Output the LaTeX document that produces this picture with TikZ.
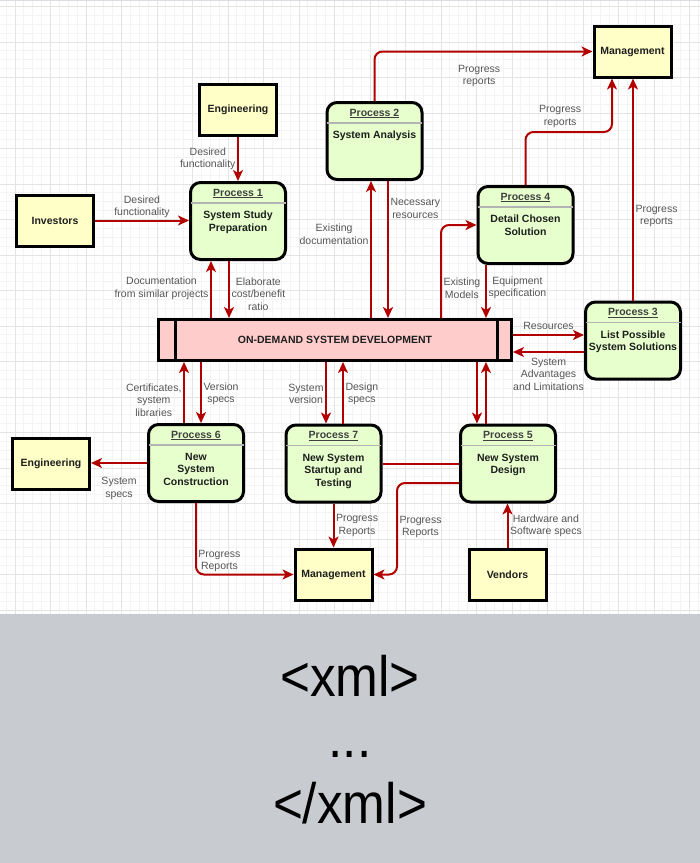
\documentclass[tikz,border=0pt]{standalone}
\usepackage{fontspec}
\setmainfont{Liberation Sans}
\newfontfamily\xmlfont[FakeStretch=0.9]{Liberation Sans}
\usetikzlibrary{arrows.meta}

\definecolor{arrowred}{HTML}{B20000}
\definecolor{entfill}{HTML}{FFFFC8}
\definecolor{procfill}{HTML}{E6FFCC}
\definecolor{devfill}{HTML}{FFCCCC}
\definecolor{divgray}{HTML}{B3B3B3}
\definecolor{labelgray}{HTML}{555555}
\definecolor{textdark}{HTML}{1E1E1E}
\definecolor{bandgray}{HTML}{C8CCD1}
\definecolor{minorgrid}{HTML}{F3F3F3}
\definecolor{majorgrid}{HTML}{E4E4E4}

\tikzset{
  flow/.style={draw=arrowred, line width=2pt, -{Stealth[length=11pt,width=10pt,inset=3pt]}},
  plainflow/.style={draw=arrowred, line width=2pt},
  ent/.style={draw, line width=3pt, fill=entfill, minimum width=77pt, minimum height=51pt,
    font=\bfseries\fontsize{10.5}{12.5}\selectfont, text=textdark},
  proc/.style={draw, line width=3pt, fill=procfill, rounded corners=10pt,
    minimum width=95pt, minimum height=77pt},
  ptitle/.style={anchor=base, inner sep=0pt, font=\bfseries\fontsize{10.5}{12.5}\selectfont, text=textdark!85},
  pbody/.style={anchor=north, align=center, inner sep=0pt, font=\bfseries\fontsize{10.5}{12.5}\selectfont, text=textdark},
  pline/.style={draw=divgray, line width=1.5pt},
  lbl/.style={font=\fontsize{10.5}{12.5}\selectfont, text=labelgray, align=center, inner sep=1.5pt},
  xmltext/.style={anchor=base, inner sep=0pt, font=\xmlfont\fontsize{57}{60}\selectfont}
}

% process box: name, x, y, number, text
\newcommand\procbox[5]{
  \node[proc] (#1) at (#2,#3) {};
  \node[ptitle] (#1t) at ([yshift=-15pt]#1.north) {\underline{Process #4}};
  \draw[pline] ([xshift=1.5pt,yshift=-22pt]#1.north west) -- ([xshift=-1.5pt,yshift=-22pt]#1.north east);
  \node[pbody] (#1b) at ([yshift=-30pt]#1.north) {#5};
}

\begin{document}
\begin{tikzpicture}[x=1pt,y=-1pt]
  \useasboundingbox (0,0) rectangle (700,863);
  % background grid
  \foreach \i in {-2,...,78} \draw[minorgrid, line width=0.8pt] ({15+8.875*\i},0) -- ({15+8.875*\i},614);
  \foreach \i in {0,...,68} \draw[minorgrid, line width=0.8pt] (0,{6.5+8.875*\i}) -- (700,{6.5+8.875*\i});
  \foreach \i in {0,...,19} \draw[majorgrid, line width=0.9pt] ({15+35.5*\i},0) -- ({15+35.5*\i},614);
  \foreach \i in {0,...,17} \draw[majorgrid, line width=0.9pt] (0,{6.5+35.5*\i}) -- (700,{6.5+35.5*\i});
  \draw[blue!10!gray!25, line width=1pt] (0,0.5) -- (700,0.5);

  % external entities
  \node[ent] (eng1) at (238,110) {Engineering};
  \node[ent] (inv) at (55,220.5) {Investors};
  \node[ent] (mgt1) at (632.5,51.5) {Management};
  \node[ent] (eng2) at (51,463.5) {Engineering};
  \node[ent] (mgt2) at (333.5,574.5) {Management};
  \node[ent] (ven) at (507.5,575) {Vendors};

  % data store
  \node[draw, line width=3pt, fill=devfill, minimum width=353pt, minimum height=41pt,
    font=\bfseries\fontsize{10.5}{12.5}\selectfont, text=textdark] (dev) at (335,340) {ON-DEMAND SYSTEM DEVELOPMENT};
  \draw[line width=3pt] ([xshift=18pt]dev.north west) -- ([xshift=18pt]dev.south west);
  \draw[line width=3pt] ([xshift=-16pt]dev.north east) -- ([xshift=-16pt]dev.south east);

  % processes
  \procbox{p1}{238}{221}{1}{System Study\\Preparation}
  \procbox{p2}{374.5}{141}{2}{System Analysis}
  \procbox{p4}{525.5}{225}{4}{Detail Chosen\\Solution}
  \procbox{p3}{633}{340.5}{3}{List Possible\\System Solutions}
  \procbox{p5}{508}{463.5}{5}{New System\\Design}
  \procbox{p7}{333.5}{463.5}{7}{New System\\Startup and\\Testing}
  \procbox{p6}{196}{463}{6}{New\\System\\Construction}

  % flows
  \draw[flow] (eng1) -- (p1) node[lbl, left, midway] {Desired\\functionality};
  \draw[flow] (inv.east) -- (inv.east -| p1.west) node[lbl, above, midway] {Desired\\functionality};
  \draw[flow] ([xshift=-27pt]p1.south |- dev.north) -- ([xshift=-27pt]p1.south)
    node[lbl, left, pos=0.52] {Documentation\\from similar projects};
  \draw[flow] ([xshift=-9pt]p1.south) -- ([xshift=-9pt]p1.south |- dev.north)
    node[lbl, right, pos=0.58] {Elaborate\\cost/benefit\\ratio};

  \draw[flow, rounded corners=8pt] (p2.north) |- (mgt1.west) node[lbl, below=11pt, pos=0.74] {Progress\\reports};
  \draw[flow] ([xshift=-3.5pt]p2.south |- dev.north) -- ([xshift=-3.5pt]p2.south)
    node[lbl, left, pos=0.61] {Existing\\documentation};
  \draw[flow] ([xshift=13.5pt]p2.south) -- ([xshift=13.5pt]p2.south |- dev.north)
    node[lbl, right, pos=0.2] {Necessary\\resources};

  \draw[flow, rounded corners=8pt] (p4.north) -- ++(0,-53) -| ([xshift=-20.5pt]mgt1.south)
    node[lbl, above=2pt, pos=0.2] {Progress\\reports};
  \draw[flow, rounded corners=8pt] ([xshift=106pt]dev.north) |- (p4.west)
    node[lbl, right, pos=0.16] {Existing\\Models};
  \draw[flow] ([xshift=-39.5pt]p4.south) -- ([xshift=-39.5pt]p4.south |- dev.north)
    node[lbl, right, pos=0.43] {Equipment\\specification};

  \draw[flow] (p3.north) -- (p3.north |- mgt1.south) node[lbl, right, pos=0.38] {Progress\\reports};
  \draw[flow] ([yshift=5pt]dev.east) -- ([yshift=5pt]dev.east -| p3.west) node[lbl, above=3pt, midway] {Resources};
  \draw[flow] ([yshift=-12pt]dev.east -| p3.west) -- ([yshift=-12pt]dev.east)
    node[lbl, below=3.5pt, midway] {System\\Advantages\\and Limitations};

  \draw[flow] ([xshift=-31pt]p5.north |- dev.south) -- ([xshift=-31pt]p5.north);
  \draw[flow] ([xshift=-22pt]p5.north) -- ([xshift=-22pt]p5.north |- dev.south);
  \draw[plainflow] (p7.east) -- (p5.west);
  \draw[flow, rounded corners=8pt] ([yshift=-19.5pt]p5.west) -| ([xshift=23.5pt]mgt2.east)
    node[lbl, right, pos=0.74] {Progress\\Reports} -- (mgt2.east);
  \draw[flow] (ven.north) -- (ven.north |- p5.south) node[lbl, right, midway] {Hardware and\\Software specs};

  \draw[flow] ([xshift=-7.5pt]p7.north |- dev.south) -- ([xshift=-7.5pt]p7.north)
    node[lbl, left, pos=0.52] {System\\version};
  \draw[flow] ([xshift=9.5pt]p7.north) -- ([xshift=9.5pt]p7.north |- dev.south)
    node[lbl, right, pos=0.48] {Design\\specs};
  \draw[flow] (p7) -- (mgt2) node[lbl, right, midway] {Progress\\Reports};

  \draw[flow] ([xshift=5pt]p6.north |- dev.south) -- ([xshift=5pt]p6.north)
    node[lbl, right, pos=0.52] {Version\\specs};
  \draw[flow] ([xshift=-12pt]p6.north) -- ([xshift=-12pt]p6.north |- dev.south)
    node[lbl, left, pos=0.38] {Certificates,\\system\\libraries};
  \draw[flow] (p6.west) -- (p6.west -| eng2.east) node[lbl, below=12pt, midway] {System\\specs};
  \draw[flow, rounded corners=8pt] (p6.south) |- (mgt2.west) node[lbl, above, pos=0.62] {Progress\\Reports};

  % xml band
  \fill[bandgray] (0,614) rectangle (700,863);
  \node[xmltext] (xmlopen) at (350,696) {<xml>};
  \node[xmltext] (xmldots) at (350,757) {...};
  \node[xmltext] (xmlclose) at (350,823) {</xml>};
\end{tikzpicture}
\end{document}
